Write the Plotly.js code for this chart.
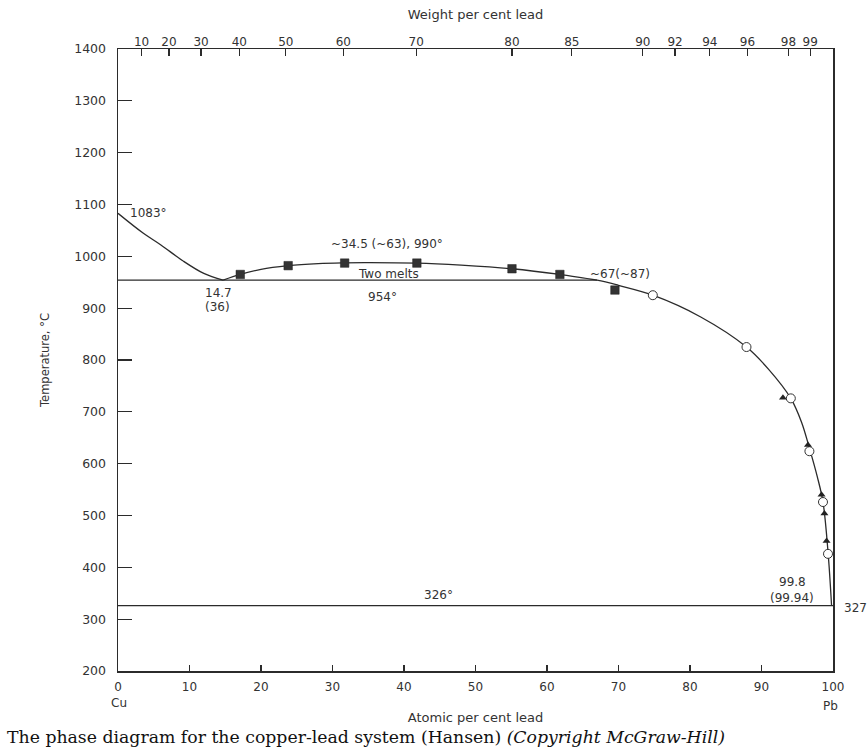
<!DOCTYPE html>
<html>
<head>
<meta charset="utf-8">
<script src="https://cdn.plot.ly/plotly-3.0.1.min.js"></script>
<style>html,body{margin:0;padding:0;background:#fff;}#chart{width:867px;height:749px;}</style>
</head>
<body>
<div id="chart"></div>
<script>
// ---- data (atomic per cent lead vs temperature, deg C) ----
var cuLiquidusX = [0, 3.5, 6, 9, 12, 14.7];
var cuLiquidusT = [1083, 1045, 1022, 992, 967, 954];

var pbLiquidusX = [14.7, 17.1, 20, 23.8, 28, 31.7, 34.5, 41.8, 48, 55.1, 61.8, 67, 70, 74.8, 81.5, 87.9, 91, 94.1, 95.6, 96.7, 97.8, 98.6, 99.3, 99.8];
var pbLiquidusT = [954, 965, 975, 982, 986, 987.5, 988, 987, 983, 976, 965, 954, 944, 925, 883, 825, 782, 726, 680, 630, 575, 526, 430, 326];

var monotecticX = [0, 67];
var monotecticT = [954, 954];
var eutecticX = [0, 100];
var eutecticT = [326, 326];

var squaresX = [17.1, 23.8, 31.7, 41.8, 55.1, 61.8, 69.5];
var squaresT = [965, 982, 987, 987, 976, 965, 935];
var circlesX = [74.8, 87.9, 94.1, 96.7, 98.6, 99.3];
var circlesT = [925, 825, 726, 624, 526, 426];
var trianglesX = [93.0, 96.5, 98.4, 98.8, 99.1];
var trianglesT = [727, 636, 540, 504, 451];

var yTicks = [200, 300, 400, 500, 600, 700, 800, 900, 1000, 1100, 1200, 1300, 1400];
var xTicks = [0, 10, 20, 30, 40, 50, 60, 70, 80, 90, 100];
var weightTicks = [10, 20, 30, 40, 50, 60, 70, 80, 85, 90, 92, 94, 96, 98, 99];

// weight % Pb -> atomic % Pb (scale of the top axis)
var M_PB = 207.2, M_CU = 63.55;
function wtToAt(w) { var a = w / M_PB, b = (100 - w) / M_CU; return 100 * a / (a + b); }

var ink = '#2b2b2b';
var txt = '#333333';
var sans = 'DejaVu Sans, Arial, sans-serif';

var traces = [
  {x: cuLiquidusX, y: cuLiquidusT, mode: 'lines', line: {color: ink, width: 1.3, shape: 'spline'}, hoverinfo: 'skip'},
  {x: pbLiquidusX, y: pbLiquidusT, mode: 'lines', line: {color: ink, width: 1.3, shape: 'spline'}, hoverinfo: 'skip'},
  {x: monotecticX, y: monotecticT, xaxis: 'x2', mode: 'lines', line: {color: ink, width: 1.3}, hoverinfo: 'skip'},
  {x: eutecticX, y: eutecticT, mode: 'lines', line: {color: ink, width: 1.3}, hoverinfo: 'skip'},
  {x: squaresX, y: squaresT, mode: 'markers', marker: {symbol: 'square', size: 8.5, color: '#333', line: {color: '#222', width: 0.5}}, hoverinfo: 'skip'},
  {x: circlesX, y: circlesT, mode: 'markers', marker: {symbol: 'circle', size: 9, color: '#fff', line: {color: '#333', width: 1}}, hoverinfo: 'skip'},
  {x: trianglesX, y: trianglesT, mode: 'markers', marker: {symbol: 'triangle-up', size: 7, color: '#222'}, hoverinfo: 'skip'}
];

var annFont = {family: sans, size: 12, color: txt};
function ann(t, x, y, extra) {
  var a = {text: t, x: x, y: y, xref: 'x', yref: 'y', showarrow: false, font: annFont};
  for (var k in extra) a[k] = extra[k];
  return a;
}

var layout = {
  width: 867, height: 749,
  margin: {l: 118, r: 34, t: 49, b: 78},
  paper_bgcolor: '#ffffff', plot_bgcolor: '#ffffff',
  showlegend: false,
  font: {family: sans, size: 12, color: txt},
  xaxis: {
    range: [0, 100], tickvals: xTicks, ticks: 'inside', ticklen: 6, tickcolor: ink, tickwidth: 1.2,
    showline: true, mirror: true, linecolor: ink, linewidth: 1.5, showgrid: false, zeroline: false,
    tickfont: {family: sans, size: 12, color: txt}, ticklabelstandoff: 4,
    title: {text: 'Atomic per cent lead', font: {family: sans, size: 13, color: txt}, standoff: 20}
  },
  xaxis2: {
    range: [0, 100], overlaying: 'x', side: 'top', anchor: 'y',
    tickvals: weightTicks.map(wtToAt), ticktext: weightTicks.map(String),
    ticks: 'inside', ticklen: 7, tickcolor: ink, tickwidth: 1.2,
    showline: false, showgrid: false, zeroline: false,
    tickfont: {family: sans, size: 12, color: txt}, ticklabelstandoff: 0,
    title: {text: 'Weight per cent lead', font: {family: sans, size: 13, color: txt}, standoff: 12}
  },
  yaxis: {
    range: [200, 1400], tickvals: yTicks, ticks: 'inside', ticklen: 14, tickcolor: ink, tickwidth: 1.2,
    showline: true, mirror: true, linecolor: ink, linewidth: 1.5, showgrid: false, zeroline: false,
    tickfont: {family: sans, size: 12.5, color: txt}, ticklabelstandoff: 8,
    title: {text: 'Temperature, °C', font: {family: sans, size: 11.5, color: txt}, standoff: 22}
  },
  annotations: [
    ann('1083°', 1.4, 1083, {xanchor: 'left'}),
    ann('~34.5 (~63), 990°', 37.6, 1023),
    ann('Two melts', 37.9, 966),
    ann('14.7', 14.0, 930),
    ann('(36)', 13.9, 903),
    ann('954°', 37, 921),
    ann('~67(~87)', 70.2, 965),
    ann('326°', 44.8, 347),
    ann('99.8', 94.4, 372),
    ann('(99.94)', 94.2, 341),
    {text: '327', x: 1.013, xref: 'paper', xanchor: 'left', y: 322, yref: 'y', showarrow: false, font: annFont},
    {text: 'Cu', x: 0.2, xref: 'x', y: -0.0514, yref: 'paper', yanchor: 'middle', showarrow: false, font: {family: sans, size: 12, color: txt}},
    {text: 'Pb', x: 99.6, xref: 'x', y: -0.056, yref: 'paper', yanchor: 'middle', showarrow: false, font: {family: sans, size: 12, color: txt}},
    {text: 'The phase diagram for the copper-lead system (Hansen) <i>(Copyright McGraw-Hill)</i>',
     x: -0.158, xref: 'paper', xanchor: 'left', y: -0.106, yref: 'paper', yanchor: 'middle', showarrow: false,
     font: {family: 'DejaVu Serif, Liberation Serif, serif', size: 17.3, color: '#111'}}
  ]
};

Plotly.newPlot('chart', traces, layout, {displayModeBar: false, staticPlot: true});
</script>
</body>
</html>
